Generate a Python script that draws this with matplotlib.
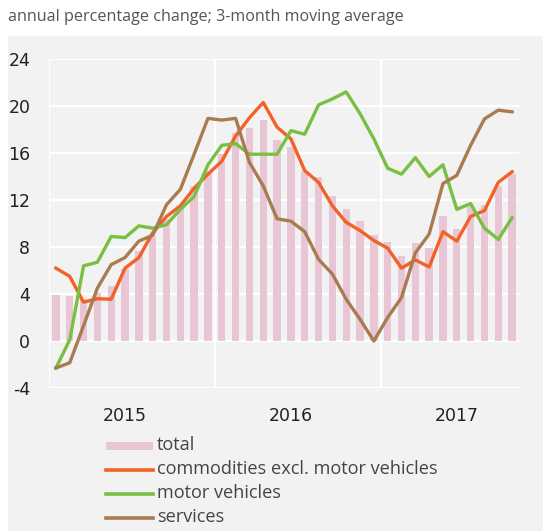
import matplotlib
matplotlib.use("Agg")
import matplotlib.pyplot as plt
from matplotlib.lines import Line2D
from matplotlib.patches import Rectangle
import numpy as np

months = list(range(34))  # Jan 2015 .. Oct 2017
year_labels = ["2015", "2016", "2017"]
year_tick_pos = [5, 17, 29]
year_dividers = [11.5, 23.5]

total = [3.9, 3.8, 3.6, 4.1, 4.7, 6.1, 7.7, 8.9, 10.4, 11.5, 13.2, 14.5,
         15.9, 17.7, 18.1, 18.8, 17.1, 16.5, 14.5, 14.0, 12.3, 11.2, 10.2, 9.0,
         8.4, 7.2, 8.3, 7.9, 10.6, 9.5, 11.5, 11.6, 13.2, 14.2]
commodities = [6.2, 5.5, 3.3, 3.6, 3.55, 6.2, 7.1, 9.2, 10.6, 11.5, 13.0, 14.2,
               15.3, 17.45, 19.0, 20.3, 18.2, 17.2, 14.5, 13.5, 11.5, 10.1, 9.4, 8.55,
               7.9, 6.2, 6.9, 6.3, 9.3, 8.5, 10.6, 11.1, 13.5, 14.4]
motor = [-2.3, 0.1, 6.4, 6.7, 8.9, 8.8, 9.8, 9.6, 9.9, 11.2, 12.3, 15.0,
         16.65, 16.8, 15.9, 15.9, 15.9, 17.9, 17.6, 20.1, 20.6, 21.2, 19.35, 17.2,
         14.7, 14.2, 15.6, 14.0, 15.0, 11.2, 11.7, 9.6, 8.65, 10.5]
services = [-2.3, -1.85, 1.3, 4.5, 6.5, 7.1, 8.5, 9.0, 11.6, 12.9, 15.9, 18.95,
            18.8, 18.95, 15.2, 13.2, 10.4, 10.2, 9.3, 6.95, 5.7, 3.55, 1.85, 0.0,
            2.0, 3.7, 7.5, 9.1, 13.4, 14.1, 16.65, 18.9, 19.65, 19.5]
y_ticks = [-4, 0, 4, 8, 12, 16, 20, 24]
title = "annual percentage change; 3-month moving average"
legend_labels = ["total", "commodities excl. motor vehicles", "motor vehicles", "services"]

c_bar = "#e8c6d6"
c_orange = "#f26125"
c_green = "#78bf42"
c_brown = "#a87c50"
bg = "#f2f2f2"

W, H = 543, 531
fig = plt.figure(figsize=(W / 100, H / 100), dpi=100)
fig.patch.set_facecolor("white")
fig.add_artist(Rectangle((8 / W, 0), 1, 1 - 36 / H, transform=fig.transFigure,
                         facecolor=bg, edgecolor="none", zorder=-10))

ax = fig.add_axes([49 / W, 1 - 388 / H, (519 - 49) / W, (388 - 59) / H])
ax.set_facecolor(bg)
ax.set_xlim(-0.5, 33.5)
ax.set_ylim(-4, 24)
for s in ax.spines.values():
    s.set_visible(False)
ax.set_axisbelow(True)
ax.yaxis.grid(True, color="white", lw=1.6)
ax.axvline(-0.5, color="white", lw=1.6, zorder=0)
for d in year_dividers:
    ax.axvline(d, color="white", lw=1.6, zorder=0)

ax.bar(months, total, width=0.53, color=c_bar, zorder=1)
lw = 2.4
ax.plot(months, commodities, color=c_orange, lw=lw, zorder=3)
ax.plot(months, motor, color=c_green, lw=lw, zorder=3)
ax.plot(months, services, color=c_brown, lw=lw, zorder=3)

ax.set_yticks(y_ticks)
ax.set_yticklabels([str(v) for v in y_ticks], fontsize=12.5, color="#222222",
                   family="DejaVu Sans")
ax.tick_params(axis="y", length=0, pad=13.5)
ax.set_xticks(year_tick_pos)
ax.set_xticklabels(year_labels, fontsize=12.5, color="#222222",
                   family="DejaVu Sans")
ax.tick_params(axis="x", length=0, pad=14)

fig.text(8 / W, 1 - 17 / H, title, fontsize=11.6, color="#555555",
         family=["Open Sans", "DejaVu Sans"], va="center", ha="left")

# legend (manual)
rows = [446, 470, 494, 518]
x0, x1, xt = 106, 153, 157
fig.add_artist(Rectangle((x0 / W, 1 - 450 / H), (x1 - x0) / W, 8 / H,
                         transform=fig.transFigure, facecolor=c_bar, edgecolor="none"))
for y, c in zip(rows[1:], [c_orange, c_green, c_brown]):
    fig.add_artist(Line2D([x0 / W, x1 / W], [1 - y / H, 1 - y / H],
                          transform=fig.transFigure, color=c, lw=2.6))
for y, lab in zip(rows, legend_labels):
    fig.text(xt / W, 1 - (y - 1) / H, lab, fontsize=13.1, color="#444444",
             family=["Open Sans", "DejaVu Sans"], va="center", ha="left")

fig.savefig("out.png", dpi=100, facecolor=fig.get_facecolor())
